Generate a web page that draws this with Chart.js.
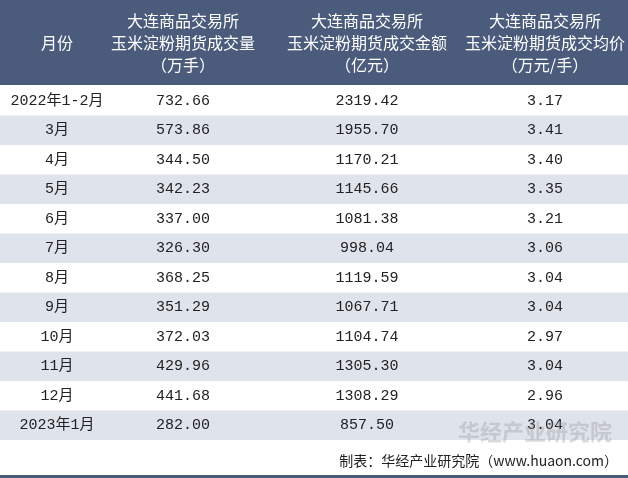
<!DOCTYPE html>
<html><head><meta charset="utf-8">
<script src="https://cdn.jsdelivr.net/npm/chart.js@4/dist/chart.umd.min.js"></script>
<style>html,body{margin:0;padding:0;background:#fff}#wrap{width:628px;height:478px}</style>
</head><body><div id="wrap"><canvas id="myChart"></canvas></div>
<script>
// TABLE DATA
const months = ["2022年1-2月","3月","4月","5月","6月","7月","8月","9月","10月","11月","12月","2023年1月"];
const volume = ["732.66","573.86","344.50","342.23","337.00","326.30","368.25","351.29","372.03","429.96","441.68","282.00"];
const amount = ["2319.42","1955.70","1170.21","1145.66","1081.38","998.04","1119.59","1067.71","1104.74","1305.30","1308.29","857.50"];
const price = ["3.17","3.41","3.40","3.35","3.21","3.06","3.04","3.04","2.97","3.04","2.96","3.04"];
const headers = [["月份"],["大连商品交易所","玉米淀粉期货成交量","（万手）"],["大连商品交易所","玉米淀粉期货成交金额","（亿元）"],["大连商品交易所","玉米淀粉期货成交均价","（万元/手）"]];

const colX = [57, 183, 367, 545];
const FONT = "15px 'Liberation Mono', 'Noto Sans CJK SC'";

const tablePlugin = {
  id: "table",
  beforeDraw(chart) {
    const c = chart.ctx, y = chart.scales.y, w = chart.width;
    c.save();
    c.fillStyle = "#4b5b7c";
    c.fillRect(0, 0, w, 85);
    months.forEach((m, i) => {
      if (i % 2 === 1) {
        const top = y.getPixelForValue(i) - 14.75;
        c.fillStyle = "#dfe3ec";
        c.fillRect(0, top, w, 29.5);
      }
    });
    c.fillStyle = "#4b5b7c";
    c.fillRect(0, 475, w, 3);
    c.restore();
  },
  afterDraw(chart) {
    const c = chart.ctx, y = chart.scales.y;
    c.save();
    c.font = "16px 'Noto Sans CJK SC'";
    c.textAlign = "center";
    c.textBaseline = "middle";
    c.fillStyle = "#ffffff";
    headers.forEach((h, j) => {
      h.forEach((line, k) => {
        const yy = h.length === 1 ? 43 : 21 + k * 22;
        c.fillText(line, colX[j], yy, 162);
      });
    });
    c.fillStyle = "#222222";
    c.font = FONT;
    [months, volume, amount, price].forEach((col, j) => {
      col.forEach((v, i) => c.fillText(v, colX[j], y.getPixelForValue(i)));
    });
    // watermark
    c.font = "bold 22px 'Noto Sans CJK SC'";
    c.fillStyle = "rgba(150,150,150,0.35)";
    c.fillText("华经产业研究院", 535, 432);
    c.font = "14px 'Noto Sans CJK SC'";
    c.fillStyle = "#222222";
    c.textAlign = "right";
    c.fillText("制表：华经产业研究院（www.huaon.com）", 618, 461);
    c.restore();
  }
};

const ctx = document.getElementById("myChart").getContext("2d");
const myChart = new Chart(ctx, {
  type: "scatter",
  data: {
    datasets: [{ data: months.map((m, i) => ({ x: 0, y: i })), pointRadius: 0 }],
  },
  options: {
    responsive: true,
    maintainAspectRatio: false,
    animation: false,
    layout: { padding: { top: 86, bottom: 38, left: 0, right: 0 } },
    plugins: { legend: { display: false }, tooltip: { enabled: false } },
    scales: {
      x: { display: false, min: 0, max: 1 },
      y: { display: false, reverse: true, min: -0.5, max: 11.5 },
    },
  },
  plugins: [tablePlugin],
});
</script></body></html>
